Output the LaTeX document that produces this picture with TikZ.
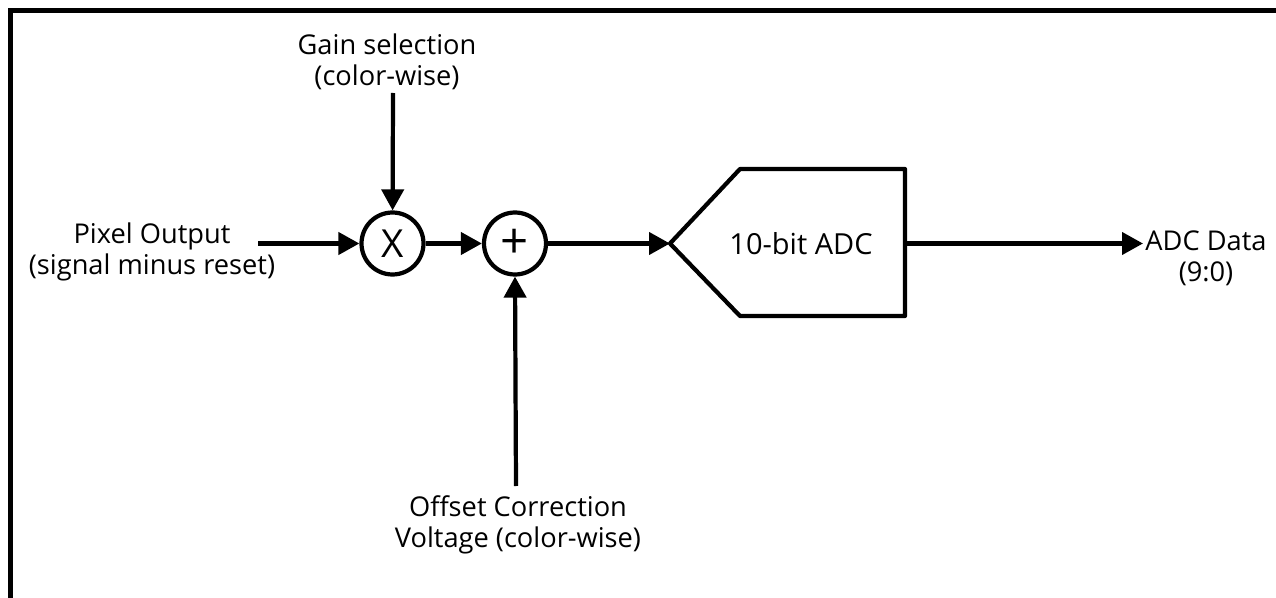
\documentclass[tikz,border=0pt]{standalone}
\usepackage{fontspec}
\setmainfont{Open Sans}
\usetikzlibrary{arrows.meta}
\begin{document}
\begin{tikzpicture}[x=0.02cm,y=-0.02cm,
  txt/.style={align=center,font=\fontsize{15.5}{17.6}\selectfont,inner sep=0pt},
  wire/.style={line width=2.4pt},
  arr/.style={wire,-{Triangle[length=0.42cm,width=0.44cm]}},
  circ/.style={circle,draw,line width=2.4pt,minimum size=1.24cm,inner sep=0pt,font=\fontsize{22}{24}\selectfont}]
\useasboundingbox (0,0) rectangle (1276,598);
% frame (only top and left edges visible)
\draw[line width=2.4pt] (10.5,600) -- (10.5,10.5) -- (1280,10.5);
% nodes
\node[txt] (gain) at (387,62) {Gain selection\\(color-wise)};
\node[txt] (pix) at (152,252) {Pixel Output\\(signal minus reset)};
\node[txt] (off) at (518,525) {Offset Correction\\Voltage (color-wise)};
\node[txt] (data) at (1206,258) {ADC Data\\(9:0)};
\node[circ] (mul) at (392.5,243.5) {X};
\node[circ,font=\fontsize{28}{30}\selectfont] (add) at (515,243.5) {+};
\coordinate (adctip) at (670,243.5);
\coordinate (adcout) at (905,243.5);
\draw[line width=2.4pt,line join=round] (adctip) -- (740,169) -- (905,169) -- (905,316) -- (740,316) -- cycle;
\node[txt,font=\fontsize{16.5}{19}\selectfont] (adc) at (801,243.5) {10-bit ADC};
% connector free ends
\coordinate (gainend) at (393,93);
\coordinate (pixend) at (258,243.5);
\coordinate (offend) at (516,486);
\coordinate (dataend) at (1143,243.5);
% connectors
\draw[arr] (gainend) -- (mul);
\draw[arr] (pixend) -- (mul);
\draw[arr] (mul) -- (add);
\draw[arr] (add) -- (adctip);
\draw[arr] (offend) -- (add.south);
\draw[arr] (adcout) -- (dataend);
\end{tikzpicture}
\end{document}
